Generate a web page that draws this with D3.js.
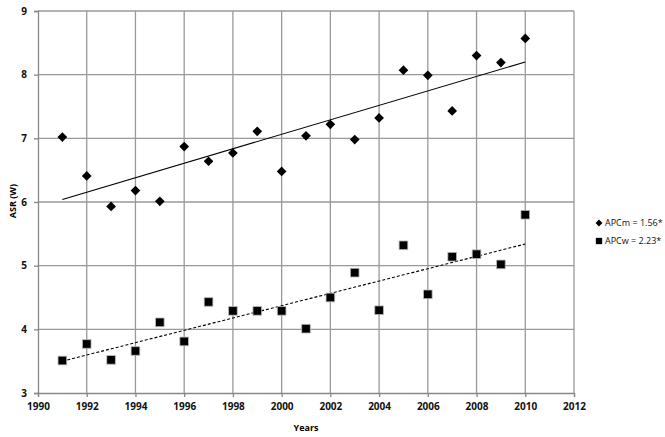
<!DOCTYPE html>
<html>
<head>
<meta charset="utf-8">
<script src="https://cdn.jsdelivr.net/npm/d3@7"></script>
<style>
body { margin: 0; background: #fff; }
text { font-family: "Open Sans", "Liberation Sans", sans-serif; }
</style>
</head>
<body>
<script>
var years = [1991, 1992, 1993, 1994, 1995, 1996, 1997, 1998, 1999, 2000,
             2001, 2002, 2003, 2004, 2005, 2006, 2007, 2008, 2009, 2010];
var men = [7.02, 6.41, 5.93, 6.18, 6.01, 6.87, 6.64, 6.77, 7.11, 6.48,
           7.04, 7.22, 6.98, 7.32, 8.07, 7.99, 7.43, 8.30, 8.19, 8.57];
var women = [3.51, 3.77, 3.52, 3.66, 4.11, 3.81, 4.43, 4.29, 4.29, 4.29,
             4.01, 4.50, 4.89, 4.30, 5.32, 4.55, 5.14, 5.18, 5.02, 5.80];
// trend line ends (1991, 2010)
var menTrend = [6.04, 8.20];
var womenTrend = [3.50, 5.34];
var xTicks = [1990, 1992, 1994, 1996, 1998, 2000, 2002, 2004, 2006, 2008, 2010, 2012];
var yTicks = [3, 4, 5, 6, 7, 8, 9];
var legendLabels = ["APCm = 1.56*", "APCw = 2.23*"];

var W = 665, H = 437;
var svg = d3.select("body").append("svg").attr("width", W).attr("height", H);

var x = d3.scaleLinear().domain([1990, 2012]).range([38, 574]);
var y = d3.scaleLinear().domain([3, 9]).range([393, 11]);

// grid
svg.append("g").selectAll("line").data(xTicks.slice(1)).enter().append("line")
    .attr("x1", d => x(d)).attr("x2", d => x(d))
    .attr("y1", y(9)).attr("y2", y(3))
    .attr("stroke", "#999").attr("stroke-width", 1.3);
svg.append("g").selectAll("line").data(yTicks.slice(1)).enter().append("line")
    .attr("x1", x(1990)).attr("x2", x(2012))
    .attr("y1", d => y(d)).attr("y2", d => y(d))
    .attr("stroke", "#999").attr("stroke-width", 1.3);

// axes
var xAxis = d3.axisBottom(x).tickValues(xTicks).tickFormat(d3.format("d")).tickSize(4).tickPadding(6);
var gx = svg.append("g").attr("transform", "translate(0," + y(3) + ")").call(xAxis);
var yAxis = d3.axisLeft(y).tickValues(yTicks).tickFormat(d3.format("d")).tickSize(4).tickPadding(7);
var gy = svg.append("g").attr("transform", "translate(" + x(1990) + ",0)").call(yAxis);
[gx, gy].forEach(function (g) {
    g.select(".domain").attr("stroke", "#888").attr("stroke-width", 1.3);
    g.selectAll(".tick line").attr("stroke", "#888").attr("stroke-width", 1.3);
    g.selectAll("text").attr("fill", "#111").style("font-size", "10px").style("font-weight", "bold")
        .style("font-family", "'Open Sans', sans-serif");
});

// axis titles
svg.append("text").attr("x", 306).attr("y", 431).attr("text-anchor", "middle")
    .style("font-size", "9px").style("font-weight", "bold").text("Years");
svg.append("text").attr("transform", "translate(16,201) rotate(-90)").attr("text-anchor", "middle")
    .style("font-size", "9px").style("font-weight", "bold").text("ASR (W)");

// trend lines
svg.append("line")
    .attr("x1", x(years[0])).attr("x2", x(years[years.length - 1]))
    .attr("y1", y(menTrend[0])).attr("y2", y(menTrend[1]))
    .attr("stroke", "#000").attr("stroke-width", 1.1);
svg.append("line")
    .attr("x1", x(years[0])).attr("x2", x(years[years.length - 1]))
    .attr("y1", y(womenTrend[0])).attr("y2", y(womenTrend[1]))
    .attr("stroke", "#000").attr("stroke-width", 1.1).attr("stroke-dasharray", "3,2");

var diamond = d3.symbol().type(d3.symbolDiamond2).size(60);
var square = d3.symbol().type(d3.symbolSquare).size(75);

svg.append("g").selectAll("path").data(men).enter().append("path")
    .attr("d", diamond)
    .attr("transform", (d, i) => "translate(" + x(years[i]) + "," + y(d) + ")")
    .attr("fill", "#000");
svg.append("g").selectAll("path").data(women).enter().append("path")
    .attr("d", square)
    .attr("transform", (d, i) => "translate(" + x(years[i]) + "," + y(d) + ")")
    .attr("fill", "#000").attr("stroke", "#bbb").attr("stroke-width", 0.8);

// legend
var leg = svg.append("g");
leg.append("path").attr("d", d3.symbol().type(d3.symbolDiamond2).size(30))
    .attr("transform", "translate(599,223)").attr("fill", "#000");
leg.append("path").attr("d", d3.symbol().type(d3.symbolSquare).size(40))
    .attr("transform", "translate(599,241)").attr("fill", "#000");
leg.selectAll("text").data(legendLabels).enter().append("text")
    .attr("x", 605).attr("y", (d, i) => 226 + i * 18)
    .style("font-size", "9px").attr("fill", "#111").text(d => d);
</script>
</body>
</html>
